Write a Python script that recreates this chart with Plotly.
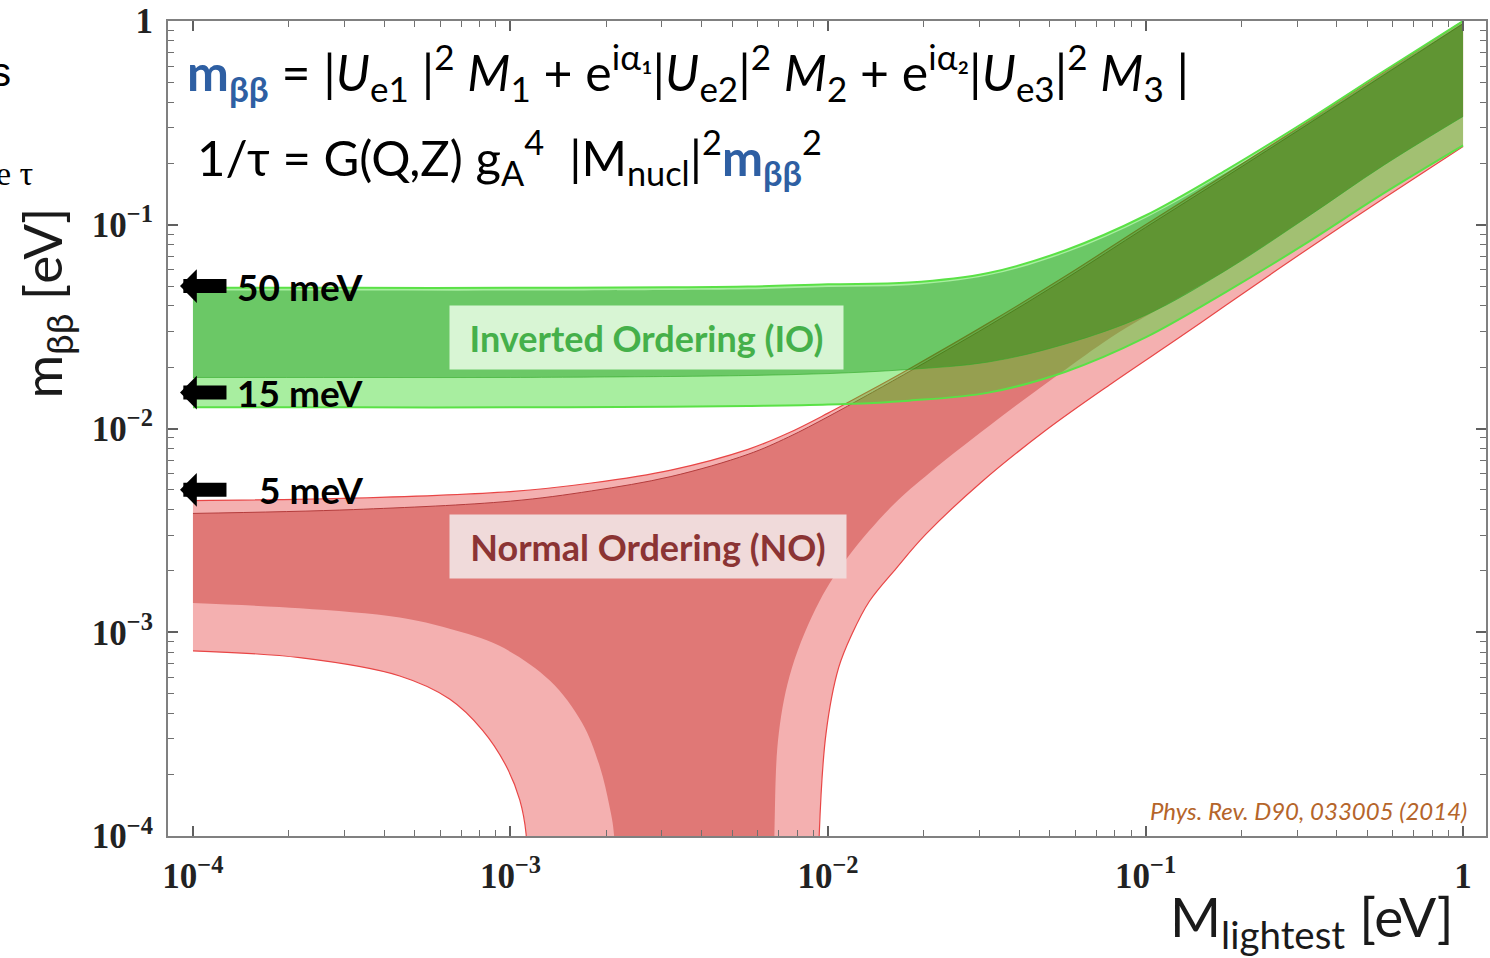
import math
import plotly.graph_objects as go

# ---------------- data ----------------
# lightest neutrino mass grid (eV) for the IO band edges
m_grid = [1e-4, 3.2e-4, 1e-3, 3.2e-3, 5.6e-3, 1e-2, 1.8e-2, 3.2e-2, 5.6e-2, 0.1, 0.18, 0.32, 0.56, 1.0]

# Inverted ordering band edges (eV)
io_outer_upper = [0.049, 0.049, 0.049, 0.0493, 0.0497, 0.051, 0.052, 0.058, 0.075, 0.111, 0.186, 0.322, 0.565, 1.0]
io_inner_upper = [0.0475, 0.0475, 0.0475, 0.0478, 0.0482, 0.0495, 0.0505, 0.0565, 0.0728, 0.108, 0.181, 0.314, 0.55, 0.98]
io_inner_lower = [0.0178, 0.0178, 0.0178, 0.018, 0.0182, 0.0186, 0.0195, 0.0212, 0.026, 0.036, 0.060, 0.108, 0.195, 0.34]
io_outer_lower = [0.0127, 0.0127, 0.0127, 0.0128, 0.0129, 0.0131, 0.0137, 0.0150, 0.019, 0.028, 0.047, 0.081, 0.142, 0.245]

# Normal ordering upper edges (eV)
no_upper_m = [1e-4, 3.2e-4, 1e-3, 1.8e-3, 3.2e-3, 5.6e-3, 7.5e-3, 1e-2, 1.33e-2, 1.8e-2, 3.2e-2, 5.6e-2,
              0.1, 0.18, 0.32, 0.56, 1.0]
no_outer_upper = [0.00443, 0.00455, 0.0049, 0.0054, 0.00625, 0.0079, 0.0095, 0.0119, 0.0151, 0.0196, 0.0329, 0.056,
                  0.1, 0.178, 0.316, 0.556, 1.0]
no_inner_upper = [0.00383, 0.0040, 0.0044, 0.00494, 0.00581, 0.00747, 0.00907, 0.01142, 0.01457, 0.0190, 0.0319, 0.0543,
                  0.097, 0.173, 0.307, 0.54, 0.97]

# Normal ordering lower edges (the cancellation region runs below the axis)
no_inner_lower_m = [1e-4, 2.17e-4, 4.48e-4, 6.43e-4, 9.2e-4, 1.33e-3, 1.68e-3, 1.91e-3, 2.05e-3, 2.12e-3, 2.16e-3,
                    6.72e-3, 6.78e-3, 7.0e-3, 7.7e-3, 9.4e-3, 1.16e-2, 1.6e-2, 2.1e-2, 3.45e-2, 5.6e-2, 8.2e-2,
                    0.134, 0.18, 0.32, 0.56, 1.0]
no_inner_lower = [0.00139, 0.00131, 0.00118, 0.00104, 0.00086, 0.00058, 0.00036, 0.00022, 0.00014, 0.0001, 1e-5,
                  1e-5, 0.000104, 0.00032, 0.00067, 0.00142, 0.00236, 0.0042, 0.0061, 0.0112, 0.0195, 0.0295,
                  0.046, 0.060, 0.108, 0.195, 0.34]

no_outer_lower_m = [1e-4, 2.17e-4, 4.48e-4, 6.43e-4, 8.17e-4, 9.7e-4, 1.07e-3, 1.12e-3, 1.15e-3,
                    9.25e-3, 9.38e-3, 9.86e-3, 1.08e-2, 1.19e-2, 1.35e-2, 1.64e-2, 2.03e-2, 3.05e-2, 4.85e-2,
                    7.8e-2, 0.127, 0.18, 0.32, 0.56, 1.0]
no_outer_lower = [0.00081, 0.00075, 0.00061, 0.00047, 0.00033, 0.00022, 0.00015, 0.000102, 1e-5,
                  1e-5, 0.0001, 0.00032, 0.00067, 0.00098, 0.00142, 0.00206, 0.00302, 0.00548, 0.0098,
                  0.0166, 0.0278, 0.0405, 0.075, 0.134, 0.242]

# reference levels marked with arrows (eV)
ref_levels = [0.05, 0.015, 0.005]
ref_labels = ["50 meV", "15 meV", "5 meV"]

# axis ticks
tick_vals = [1e-4, 1e-3, 1e-2, 1e-1, 1]
tick_text = ["10<sup>\u22124</sup>", "10<sup>\u22123</sup>", "10<sup>\u22122</sup>", "10<sup>\u22121</sup>", "1"]
minor_vals = [d * 10 ** e for e in range(-4, 0) for d in range(2, 10)]

# ---------------- figure ----------------
fig = go.Figure()
SM = 1.0


def band(xl, yl, xu, yu, fillcolor, low_line, up_line):
    fig.add_trace(go.Scatter(x=xl, y=yl, mode="lines", line=dict(shape="spline", smoothing=SM, **low_line),
                             hoverinfo="skip", showlegend=False))
    fig.add_trace(go.Scatter(x=xu, y=yu, mode="lines", fill="tonexty", fillcolor=fillcolor,
                             line=dict(shape="spline", smoothing=SM, **up_line),
                             hoverinfo="skip", showlegend=False))


# Normal ordering
band(no_outer_lower_m, no_outer_lower, no_upper_m, no_outer_upper, "#f4b0b0",
     dict(color="rgb(232,70,70)", width=1.2), dict(color="rgb(232,70,70)", width=1.2))
band(no_inner_lower_m, no_inner_lower, no_upper_m, no_inner_upper, "#e07876",
     dict(color="rgba(224,120,118,0)", width=0), dict(color="rgb(180,60,60)", width=1))
# Inverted ordering (translucent over NO)
band(m_grid, io_outer_lower, m_grid, io_outer_upper, "rgba(48,214,29,0.42)",
     dict(color="rgb(90,225,70)", width=2), dict(color="rgb(90,225,70)", width=2))
band(m_grid, io_inner_lower, m_grid, io_inner_upper, "rgba(0,133,0,0.36)",
     dict(color="rgba(50,170,40,0.6)", width=1), dict(color="rgba(50,170,40,0)", width=0))

# invisible trace carrying the top / right tick axes
fig.add_trace(go.Scatter(x=[None], y=[None], xaxis="x2", yaxis="y2", mode="lines",
                         hoverinfo="skip", showlegend=False))

L, R, T, B = 168, 2, 19, 122
W, H = 1490, 958
pw, ph = W - L - R, H - T - B
px = lambda p: (p - L) / pw        # pixel -> paper x
py = lambda p: (H - B - p) / ph    # pixel -> paper y

ann = []
# arrows + labels
for lvl, lab in zip(ref_levels, ref_labels):
    ann.append(dict(xref="paper", yref="y", x=px(180), y=math.log10(lvl), ax=48, ay=0, axref="pixel", ayref="pixel",
                    text="", showarrow=True, arrowhead=1, arrowwidth=14, arrowsize=0.4, arrowcolor="black"))
    ann.append(dict(xref="paper", yref="y", x=px(365), y=math.log10(lvl), xanchor="right", yanchor="middle",
                    text="<b>%s</b>" % lab, showarrow=False,
                    font=dict(family="Lato", size=37, color="black")))

blue = "#2e5fa3"
line1 = ("<b><span style='color:%s'>m<sub>\u03b2\u03b2</sub></span></b> = |<i>U</i><sub>e1</sub> |<sup>2</sup> <i>M</i><sub>1</sub>"
         " + e<sup>i\u03b1\u2081</sup>|<i>U</i><sub>e2</sub>|<sup>2</sup> <i>M</i><sub>2</sub>"
         " + e<sup>i\u03b1\u2082</sup>|<i>U</i><sub>e3</sub>|<sup>2</sup> <i>M</i><sub>3</sub> |") % blue
line2 = ("1/\u03c4 = G(Q,Z) g<sub>A</sub><sup>4</sup>  |M<sub>nucl</sub>|<sup>2</sup>"
         "<b><span style='color:%s'>m<sub>\u03b2\u03b2</sub></span></b><sup>2</sup>") % blue
ann.append(dict(xref="paper", yref="paper", x=px(185), y=py(70), xanchor="left", yanchor="middle",
                text=line1, showarrow=False, font=dict(family="Lato", size=50, color="black")))
ann.append(dict(xref="paper", yref="paper", x=px(195), y=py(155), xanchor="left", yanchor="middle",
                text=line2, showarrow=False, font=dict(family="Lato", size=49, color="black")))

# region labels
ann.append(dict(xref="paper", yref="paper", x=px(647), y=py(336), xanchor="center", yanchor="middle",
                text="<b>Inverted Ordering (IO)</b>", showarrow=False, width=391, height=61,
                bgcolor="#d8f5d4", font=dict(family="Lato", size=36, color="#45b04a")))
ann.append(dict(xref="paper", yref="paper", x=px(649), y=py(546), xanchor="center", yanchor="middle",
                text="<b>Normal Ordering (NO)</b>", showarrow=False, width=394, height=61,
                bgcolor="#f0dada", font=dict(family="Lato", size=36, color="#8b3434")))

# citation
ann.append(dict(xref="paper", yref="paper", x=px(1471), y=py(810), xanchor="right", yanchor="middle",
                text="<i>Phys. Rev. D90, 033005 (2014)</i>", showarrow=False,
                font=dict(family="Lato", size=24, color="#b5652a")))

# axis titles
ann.append(dict(xref="paper", yref="paper", x=px(45), y=py(302), xanchor="center", yanchor="middle",
                textangle=-90, text="m<sub>\u03b2\u03b2</sub> [eV]", showarrow=False,
                font=dict(family="Lato", size=53, color="#1a1a1a")))
ann.append(dict(xref="paper", yref="paper", x=px(1458), y=py(920), xanchor="right", yanchor="middle",
                text="M<sub>lightest</sub> [eV]", showarrow=False,
                font=dict(family="Lato", size=55, color="#1a1a1a")))

# cropped slide text at the left edge
ann.append(dict(xref="paper", yref="paper", x=px(13), y=py(70), xanchor="right", yanchor="middle",
                text="s", showarrow=False, font=dict(family="Liberation Sans", size=40, color="black")))
ann.append(dict(xref="paper", yref="paper", x=px(35), y=py(172), xanchor="right", yanchor="middle",
                text="e \u03c4", showarrow=False, font=dict(family="Liberation Serif", size=34, color="black")))

tick_style = dict(ticks="inside", ticklen=10, tickwidth=1.5, tickcolor="#606060",
                  tickmode="array", tickvals=tick_vals,
                  minor=dict(tickmode="array", tickvals=minor_vals, ticks="inside", ticklen=6,
                             tickcolor="#707070", tickwidth=1.2, showgrid=False))
label_font = dict(family="Liberation Serif", size=35, color="#222222", weight="bold")

xr = [-4.0786, 0.0722]
yr = [-4.0, 0.0]

fig.update_layout(
    width=W, height=H, margin=dict(l=L, r=R, t=T, b=B, pad=0),
    paper_bgcolor="white", plot_bgcolor="white", showlegend=False, hovermode=False,
    xaxis=dict(type="log", range=xr, showgrid=False, zeroline=False, showline=True, linecolor="#808080",
               linewidth=2, mirror=True, ticktext=tick_text, tickfont=label_font, ticklabelstandoff=8,
               **tick_style),
    yaxis=dict(type="log", range=yr, showgrid=False, zeroline=False, showline=True, linecolor="#808080",
               linewidth=2, mirror=True, ticktext=tick_text, tickfont=label_font, ticklabelstandoff=6,
               **tick_style),
    xaxis2=dict(type="log", range=xr, overlaying="x", side="top", showgrid=False, zeroline=False,
                showline=False, showticklabels=False, **tick_style),
    yaxis2=dict(type="log", range=yr, overlaying="y", side="right", showgrid=False, zeroline=False,
                showline=False, showticklabels=False, **tick_style),
    annotations=ann,
)

fig.write_html("out.html")
